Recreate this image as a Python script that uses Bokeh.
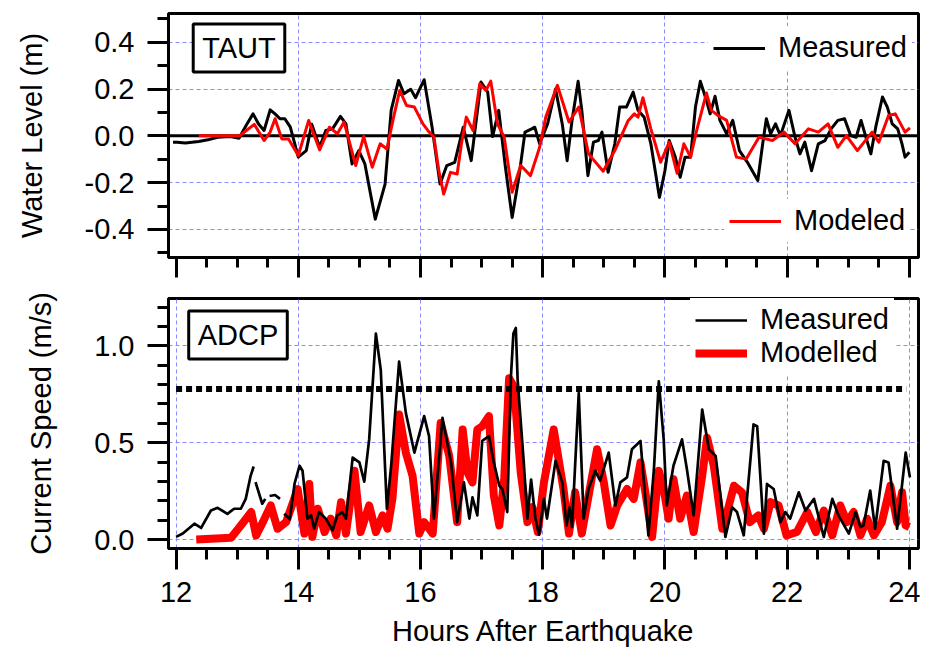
import math
from bokeh.plotting import figure
from bokeh.layouts import column
from bokeh.models import (Range1d, SingleIntervalTicker, FixedTicker, PrintfTickFormatter,
                          Span, Label, Legend, LegendItem, LinearAxis)
from bokeh.embed import file_html
from bokeh.resources import INLINE

nan = float("nan")

# ---------------- data ----------------
# Top panel: water level (m) at TAUT gauge
wl_meas_t = [
    11.95, 12.02, 12.15, 12.37, 12.52, 12.68, 12.89, 13.03, 13.16, 13.26,
    13.35, 13.44, 13.54, 13.62, 13.70, 13.78, 13.87, 14.00, 14.13, 14.22,
    14.35, 14.45, 14.56, 14.69, 14.78, 14.88, 14.99, 15.09, 15.26, 15.42,
    15.52, 15.64, 15.73, 15.84, 15.92, 16.06, 16.19, 16.32, 16.43, 16.56,
    16.70, 16.83, 16.99, 17.10, 17.18, 17.28, 17.39, 17.50, 17.61, 17.71,
    17.82, 17.87, 17.95, 18.08, 18.21, 18.32, 18.40, 18.48, 18.58, 18.64,
    18.74, 18.83, 18.91, 18.97, 19.07, 19.18, 19.26, 19.37, 19.48, 19.56,
    19.66, 19.77, 19.91, 20.00, 20.07, 20.17, 20.25, 20.33, 20.42, 20.50,
    20.58, 20.68, 20.74, 20.82, 20.90, 21.01, 21.11, 21.22, 21.35, 21.52,
    21.60, 21.66, 21.73, 21.81, 21.89, 22.03, 22.13, 22.21, 22.29, 22.40,
    22.51, 22.62, 22.72, 22.83, 22.94, 23.04, 23.13, 23.21, 23.29, 23.37,
    23.45, 23.56, 23.64, 23.72, 23.81, 23.88, 23.93, 24.00]
wl_meas_v = [
    -0.027, -0.027, -0.031, -0.024, -0.017, -0.006, -0.003, -0.010, 0.051, 0.094,
    0.051, 0.023, 0.111, 0.094, 0.073, 0.073, 0.037, -0.091, -0.063, 0.050,
    -0.049, 0.023, 0.030, 0.083, 0.051, -0.120, -0.063, -0.120, -0.356, -0.206,
    0.109, 0.237, 0.180, 0.199, 0.163, 0.240, 0.037, -0.206, -0.127, -0.113,
    0.037, -0.106, 0.230, 0.187, -0.003, 0.109, -0.134, -0.349, -0.177, 0.016,
    0.030, 0.037, -0.034, 0.051, 0.200, 0.051, -0.106, 0.066, 0.233, 0.109,
    -0.170, -0.027, -0.020, 0.016, -0.156, -0.034, 0.123, 0.123, 0.187, 0.109,
    0.080, -0.034, -0.263, -0.149, -0.020, -0.091, -0.177, -0.091, -0.091, 0.123,
    0.233, 0.151, 0.094, 0.169, 0.066, 0.009, 0.066, -0.063, -0.113, -0.191,
    -0.034, 0.073, 0.009, 0.051, 0.001, 0.109, -0.006, -0.077, -0.027, -0.149,
    -0.034, -0.020, 0.030, 0.066, 0.073, 0.001, -0.006, 0.066, -0.006, -0.077,
    0.037, 0.166, 0.123, 0.051, 0.030, -0.034, -0.091, -0.070]

wl_mod_t = [
    12.37, 13.04, 13.15, 13.28, 13.44, 13.54, 13.62, 13.73, 13.84, 14.00,
    14.17, 14.35, 14.51, 14.64, 14.75, 14.94, 15.07, 15.21, 15.34, 15.45,
    15.56, 15.66, 15.77, 15.90, 16.04, 16.12, 16.22, 16.30, 16.38, 16.49,
    16.60, 16.67, 16.75, 16.86, 16.97, 17.07, 17.15, 17.26, 17.37, 17.50,
    17.64, 17.80, 17.95, 18.05, 18.24, 18.43, 18.59, 18.75, 18.99, 19.18,
    19.40, 19.50, 19.56, 19.64, 19.77, 19.93, 20.07, 20.20, 20.31, 20.42,
    20.52, 20.68, 20.76, 20.87, 21.01, 21.17, 21.33, 21.54, 21.76, 21.95,
    22.13, 22.35, 22.51, 22.67, 22.83, 22.97, 23.15, 23.39, 23.50, 23.66,
    23.77, 23.93, 24.01]
wl_mod_v = [
    0.000, 0.000, 0.023, 0.049, -0.020, 0.016, 0.073, -0.013, -0.013, -0.084,
    0.066, -0.060, 0.037, 0.009, 0.059, -0.127, -0.003, -0.134, -0.034, -0.056,
    0.080, 0.194, 0.130, 0.123, 0.051, 0.023, -0.006, -0.149, -0.249, -0.156,
    -0.163, -0.034, 0.080, 0.023, 0.223, 0.194, 0.234, 0.051, -0.006, -0.241,
    -0.127, -0.170, -0.049, 0.080, 0.216, 0.059, 0.123, -0.077, -0.151, -0.063,
    0.066, 0.094, 0.080, 0.163, 0.030, -0.113, -0.027, -0.160, -0.034, -0.091,
    0.023, 0.183, 0.109, 0.087, 0.066, -0.091, -0.099, -0.006, -0.020, 0.016,
    -0.034, 0.030, 0.016, 0.051, -0.049, 0.001, -0.063, 0.016, -0.027, 0.087,
    0.094, 0.016, 0.034]

# Bottom panel: current speed (m/s) at ADCP, (hour, speed); nan = data gap
cs_measured = [
    (12.00, 0.014), (12.11, 0.031), (12.30, 0.082), (12.41, 0.060), (12.57, 0.150),
    (12.68, 0.164), (12.84, 0.133), (12.95, 0.159), (13.06, 0.159), (13.14, 0.210),
    (13.22, 0.329), (13.27, 0.377), (nan, nan),
    (13.30, 0.297), (13.41, 0.185), (13.46, 0.210), (nan, nan),
    (13.53, 0.225), (13.62, 0.230), (13.70, 0.210), (nan, nan),
    (13.77, 0.133), (13.86, 0.105), (13.94, 0.290), (14.02, 0.381), (14.07, 0.355),
    (14.15, 0.108), (14.21, 0.125), (14.26, 0.056), (14.34, 0.142), (14.45, 0.108),
    (14.56, 0.048), (14.64, 0.125), (14.72, 0.142), (14.78, 0.108), (14.89, 0.423),
    (15.00, 0.398), (15.08, 0.299), (15.16, 0.517), (15.27, 1.063), (15.35, 0.875),
    (15.45, 0.159), (15.52, 0.381), (15.65, 0.918), (15.76, 0.654), (15.90, 0.449),
    (16.06, 0.637), (16.14, 0.534), (16.22, 0.108), (16.36, 0.628), (16.50, 0.398),
    (16.60, 0.090), (16.71, 0.295), (16.80, 0.108), (16.85, 0.218), (16.93, 0.125),
    (17.01, 0.509), (17.12, 0.534), (17.20, 0.398), (17.29, 0.278), (17.34, 0.261),
    (17.42, 0.142), (17.48, 0.841), (17.52, 1.063), (17.56, 1.092), (17.59, 0.823),
    (17.69, 0.398), (17.75, 0.108), (17.81, 0.310), (17.88, 0.110), (17.94, 0.025),
    (18.02, 0.210), (18.07, 0.108), (18.21, 0.406), (18.32, 0.295), (18.39, 0.073),
    (18.44, 0.167), (18.48, 0.065), (18.59, 0.756), (18.67, 0.108), (18.75, 0.261),
    (18.86, 0.355), (18.94, 0.304), (19.08, 0.449), (19.19, 0.176), (19.27, 0.295),
    (19.38, 0.321), (19.46, 0.466), (19.60, 0.509), (19.73, 0.022), (19.82, 0.363),
    (19.90, 0.816), (19.98, 0.517), (20.03, 0.176), (20.14, 0.381), (20.28, 0.517),
    (20.36, 0.363), (20.47, 0.125), (20.55, 0.432), (20.61, 0.671), (20.72, 0.466),
    (20.83, 0.432), (20.99, 0.014), (21.10, 0.167), (21.18, 0.142), (21.29, 0.022),
    (21.45, 0.594), (21.51, 0.585), (21.62, 0.031), (21.67, 0.287), (21.78, 0.261),
    (21.89, 0.090), (21.97, 0.142), (22.05, 0.108), (22.19, 0.244), (22.30, 0.150),
    (22.44, 0.210), (22.60, 0.014), (22.74, 0.210), (22.84, 0.125), (23.01, 0.031),
    (23.12, 0.142), (23.20, 0.065), (23.25, 0.073), (23.36, 0.253), (23.44, 0.056),
    (23.58, 0.406), (23.66, 0.398), (23.80, 0.056), (23.94, 0.449), (24.01, 0.321)]

cs_modelled = [
    (12.33, 0.000), (12.90, 0.009), (13.06, 0.073), (13.23, 0.142), (13.31, 0.022),
    (13.42, 0.090), (13.55, 0.176), (13.66, 0.056), (13.80, 0.090), (13.99, 0.261),
    (14.10, 0.031), (14.18, 0.287), (14.23, 0.014), (14.32, 0.159), (14.43, 0.039),
    (14.53, 0.108), (14.62, 0.022), (14.70, 0.193), (14.78, 0.031), (14.92, 0.355),
    (15.02, 0.039), (15.16, 0.176), (15.27, 0.039), (15.38, 0.125), (15.46, 0.056),
    (15.54, 0.210), (15.65, 0.645), (15.76, 0.449), (15.87, 0.329), (15.98, 0.031),
    (16.06, 0.090), (16.20, 0.031), (16.33, 0.602), (16.47, 0.432), (16.60, 0.090),
    (16.69, 0.568), (16.77, 0.346), (16.85, 0.295), (16.93, 0.568), (17.01, 0.585),
    (17.12, 0.637), (17.20, 0.227), (17.29, 0.073), (17.37, 0.312), (17.45, 0.833),
    (17.53, 0.790), (17.64, 0.346), (17.75, 0.090), (17.83, 0.167), (17.92, 0.040),
    (18.02, 0.295), (18.18, 0.568), (18.34, 0.261), (18.43, 0.031), (18.53, 0.244),
    (18.64, 0.031), (18.78, 0.278), (18.89, 0.466), (19.00, 0.295), (19.11, 0.073),
    (19.22, 0.176), (19.38, 0.261), (19.49, 0.210), (19.60, 0.398), (19.68, 0.244),
    (19.79, 0.014), (19.90, 0.355), (19.98, 0.261), (20.06, 0.108), (20.14, 0.312),
    (20.25, 0.108), (20.36, 0.227), (20.47, 0.039), (20.61, 0.329), (20.69, 0.526),
    (20.80, 0.381), (20.94, 0.056), (21.02, 0.142), (21.13, 0.278), (21.26, 0.244),
    (21.39, 0.090), (21.53, 0.125), (21.62, 0.056), (21.73, 0.193), (21.86, 0.176),
    (21.99, 0.022), (22.16, 0.039), (22.33, 0.142), (22.47, 0.039), (22.60, 0.150),
    (22.74, 0.022), (22.87, 0.176), (22.98, 0.090), (23.09, 0.142), (23.20, 0.022),
    (23.31, 0.108), (23.42, 0.022), (23.55, 0.090), (23.69, 0.278), (23.80, 0.090),
    (23.88, 0.244), (23.94, 0.073), (24.00, 0.065)]

threshold_speed = 0.777
threshold_hours = [12.0, 23.95]

x_major_ticks = [12, 14, 16, 18, 20, 22, 24]
x_minor_ticks = [12.5, 13, 13.5, 14.5, 15, 15.5, 16.5, 17, 17.5, 18.5, 19, 19.5,
                 20.5, 21, 21.5, 22.5, 23, 23.5]
x_grid_top = [14, 16, 18, 20, 22]
x_grid_bottom = [12, 14, 16, 18, 20, 22, 24]
y_grid_top = [-0.4, -0.2, 0.2, 0.4]
y_grid_bottom = [0.0, 0.5, 1.0]

# ---------------- styling ----------------
FONT = "Liberation Sans"
FS = "29px"
GRID = "#8a8aff"
X_RANGE = (11.876, 24.15)


def base_style(p):
    p.outline_line_color = "black"
    p.outline_line_width = 3
    p.background_fill_color = "white"
    p.border_fill_color = "white"
    for ax in p.axis:
        ax.axis_line_width = 3
        ax.axis_line_color = "black"
        ax.major_tick_line_width = 3
        ax.minor_tick_line_width = 3
        ax.major_tick_in = 0
        ax.minor_tick_in = 0
        ax.major_label_text_font = FONT
        ax.major_label_text_font_size = FS
        ax.major_label_text_color = "black"
        ax.axis_label_text_font = FONT
        ax.axis_label_text_font_size = FS
        ax.axis_label_text_font_style = "normal"
        ax.axis_label_text_color = "black"
    for g in (p.xgrid, p.ygrid):
        g.grid_line_color = GRID
        g.grid_line_dash = "4 3"
        g.grid_line_width = 1


def legend(items, loc):
    return Legend(items=items, location=loc, orientation="vertical",
                  padding=5, spacing=0, margin=0, glyph_width=52, glyph_height=20,
                  label_standoff=13, label_text_font=FONT, label_text_font_size=FS,
                  label_text_color="black", border_line_alpha=0,
                  background_fill_color="white", background_fill_alpha=1.0)


def box_label(x, y, text):
    return Label(x=x, y=y, x_units="screen", y_units="screen", text=text,
                 text_font=FONT, text_font_size=FS, text_color="black",
                 text_align="center", text_baseline="middle",
                 border_line_color="black", border_line_width=3,
                 background_fill_color="white", padding=(9, 8))


# ---------------- top panel ----------------
p1 = figure(width=920, height=293, x_range=Range1d(*X_RANGE), y_range=Range1d(-0.52, 0.523),
            output_backend="svg", toolbar_location=None,
            min_border_left=168, min_border_right=2, min_border_top=13, min_border_bottom=36)
base_style(p1)
p1.yaxis.ticker = SingleIntervalTicker(interval=0.2, num_minor_ticks=2)
p1.yaxis.formatter = PrintfTickFormatter(format="%.1f")
p1.yaxis.major_tick_out = 21
p1.yaxis.minor_tick_out = 11
p1.yaxis.major_label_standoff = 13
p1.yaxis.axis_label = "Water Level (m)"
p1.yaxis.axis_label_standoff = 34

# x axis of top panel: tick marks only (no labels)
p1.xaxis.ticker = FixedTicker(ticks=[], minor_ticks=x_minor_ticks)
p1.xaxis.minor_tick_out = 10
p1.xaxis.minor_tick_in = 0
p1.xaxis.major_label_standoff = 0
x_long = LinearAxis(ticker=FixedTicker(ticks=[], minor_ticks=x_major_ticks),
                    axis_line_color=None, minor_tick_in=10, minor_tick_out=10,
                    minor_tick_line_width=3, minor_tick_line_color="black",
                    major_label_standoff=0)
p1.add_layout(x_long, "below")

p1.xgrid.ticker = FixedTicker(ticks=x_grid_top)
p1.ygrid.ticker = FixedTicker(ticks=y_grid_top)

zero = Span(location=0, dimension="width", line_color="black", line_width=3, level="underlay")
p1.add_layout(zero)
r_wm = p1.line(wl_meas_t, wl_meas_v, line_color="black", line_width=3, line_join="round")
r_wo = p1.line(wl_mod_t, wl_mod_v, line_color="red", line_width=3, line_join="round")

p1.add_layout(legend([LegendItem(label="Measured", renderers=[r_wm])], (540, 188)), "center")
p1.add_layout(legend([LegendItem(label="Modeled", renderers=[r_wo])], (556, 15)), "center")
p1.add_layout(box_label(70.5, 209.5, "TAUT"))

# ---------------- bottom panel ----------------
p2 = figure(width=920, height=356, x_range=Range1d(*X_RANGE), y_range=Range1d(-0.046, 1.244),
            output_backend="svg", toolbar_location=None,
            min_border_left=168, min_border_right=2, min_border_top=5, min_border_bottom=99)
base_style(p2)
p2.yaxis.ticker = SingleIntervalTicker(interval=0.5, num_minor_ticks=5)
p2.yaxis.formatter = PrintfTickFormatter(format="%.1f")
p2.yaxis.major_tick_out = 21
p2.yaxis.minor_tick_out = 11
p2.yaxis.major_label_standoff = 13
p2.yaxis.axis_label = "Current Speed (m/s)"
p2.yaxis.axis_label_standoff = 34
p2.xaxis.ticker = FixedTicker(ticks=x_major_ticks, minor_ticks=x_minor_ticks)
p2.xaxis.formatter = PrintfTickFormatter(format="%d")
p2.xaxis.major_tick_out = 21
p2.xaxis.minor_tick_out = 11
p2.xaxis.major_label_standoff = 12
p2.xaxis.axis_label = "Hours After Earthquake"
p2.xaxis.axis_label_standoff = 10
p2.xgrid.ticker = FixedTicker(ticks=x_grid_bottom)
p2.ygrid.ticker = FixedTicker(ticks=y_grid_bottom)

cm_t = [a for a, b in cs_measured]
cm_v = [b for a, b in cs_measured]
co_t = [a for a, b in cs_modelled]
co_v = [b for a, b in cs_modelled]

r_co = p2.line(co_t, co_v, line_color="red", line_width=8, line_join="round")
r_cm = p2.line(cm_t, cm_v, line_color="black", line_width=2.7, line_join="round")
p2.line(threshold_hours, [threshold_speed] * len(threshold_hours), line_color="black",
        line_width=6, line_dash="6 4", line_cap="butt")

p2.add_layout(legend([LegendItem(label="Measured", renderers=[r_cm]),
                      LegendItem(label="Modelled", renderers=[r_co])], (522, 174)), "center")
p2.add_layout(box_label(69.5, 213.5, "ADCP"))

layout = column(p1, p2)
open("out.html", "w").write(file_html(layout, INLINE))
